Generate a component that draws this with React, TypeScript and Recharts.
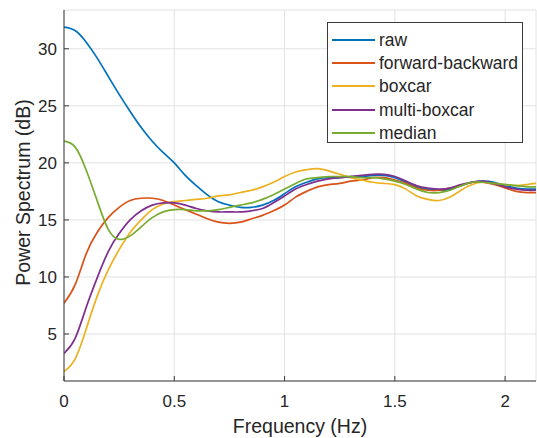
import { CartesianGrid, Line, LineChart, XAxis, YAxis } from "recharts"

const freq = [
  0, 0.05, 0.1, 0.15, 0.2, 0.25, 0.3, 0.35, 0.4, 0.45, 0.5, 0.55, 0.6, 0.65, 0.7, 0.75, 0.8, 0.85, 0.9, 0.95, 1.0,
  1.05, 1.1, 1.15, 1.2, 1.25, 1.3, 1.35, 1.4, 1.45, 1.5, 1.55, 1.6, 1.65, 1.7, 1.75, 1.8, 1.85, 1.9, 1.95, 2.0, 2.05,
  2.1, 2.14,
]

const raw = [
  31.9, 31.6, 30.6, 29.2, 27.6, 26.0, 24.5, 23.1, 21.9, 20.9, 20.0, 18.9, 18.0, 17.2, 16.6, 16.3, 16.1, 16.1, 16.3,
  16.7, 17.3, 17.9, 18.3, 18.6, 18.7, 18.7, 18.8, 18.8, 18.9, 18.9, 18.7, 18.3, 17.9, 17.7, 17.6, 17.7, 18.0, 18.3,
  18.4, 18.3, 18.0, 17.8, 17.7, 17.7,
]
const forwardBackward = [
  7.7, 9.3, 12.0, 13.9, 15.2, 16.1, 16.7, 16.9, 16.9, 16.7, 16.3, 15.9, 15.5, 15.1, 14.8, 14.7, 14.8, 15.1, 15.4,
  15.8, 16.3, 17.0, 17.5, 17.9, 18.1, 18.2, 18.4, 18.5, 18.7, 18.7, 18.5, 18.2, 17.8, 17.6, 17.6, 17.8, 18.0, 18.3,
  18.3, 18.1, 17.8, 17.5, 17.4, 17.4,
]
const boxcar = [
  1.7, 2.8, 5.4, 8.3, 10.6, 12.4, 13.9, 15.0, 15.9, 16.4, 16.6, 16.7, 16.8, 16.9, 17.1, 17.2, 17.4, 17.6, 17.9, 18.3,
  18.8, 19.2, 19.4, 19.5, 19.3, 19.0, 18.7, 18.5, 18.3, 18.2, 18.1, 17.7, 17.1, 16.8, 16.7, 17.0, 17.6, 18.1, 18.3,
  18.2, 18.1, 18.0, 18.1, 18.2,
]
const multiBoxcar = [
  3.3, 4.6, 7.3, 9.9, 12.2, 13.8, 15.0, 15.8, 16.3, 16.5, 16.5, 16.3, 16.0, 15.8, 15.7, 15.7, 15.7, 15.8, 16.0, 16.5,
  17.1, 17.7, 18.1, 18.4, 18.6, 18.7, 18.8, 18.9, 19.0, 19.0, 18.8, 18.4, 18.0, 17.8, 17.7, 17.8, 18.1, 18.3, 18.4,
  18.2, 17.9, 17.7, 17.6, 17.6,
]
const median = [
  21.9, 21.4, 19.4, 16.7, 14.2, 13.3, 13.6, 14.4, 15.2, 15.7, 15.9, 15.9, 15.8, 15.8, 15.9, 16.1, 16.3, 16.5, 16.8,
  17.2, 17.7, 18.2, 18.6, 18.7, 18.8, 18.8, 18.8, 18.7, 18.7, 18.6, 18.4, 18.1, 17.7, 17.4, 17.4, 17.6, 18.0, 18.3,
  18.3, 18.2, 18.1, 18.0, 17.9, 17.9,
]

const xTicks = [0, 0.5, 1, 1.5, 2]
const yTicks = [5, 10, 15, 20, 25, 30]

const series = [
  { key: "raw", name: "raw", color: "#0072BD" },
  { key: "fb", name: "forward-backward", color: "#D95319" },
  { key: "boxcar", name: "boxcar", color: "#EDB120" },
  { key: "multi", name: "multi-boxcar", color: "#7E2F8E" },
  { key: "median", name: "median", color: "#77AC30" },
]

const data = freq.map((f, i) => ({
  f,
  raw: raw[i],
  fb: forwardBackward[i],
  boxcar: boxcar[i],
  multi: multiBoxcar[i],
  median: median[i],
}))

const FONT = "'Liberation Sans', Arial, sans-serif"
const INK = "#262626"
const AXIS = "#3a3a3a"

function BottomTick({ x, y, payload }: any) {
  return (
    <g>
      <line x1={x} x2={x} y1={y} y2={y - 5} stroke={AXIS} />
      <text x={x} y={y + 26} textAnchor="middle" fontSize={17} fontFamily={FONT} fill={INK}>
        {payload.value}
      </text>
    </g>
  )
}

function LeftTick({ x, y, payload }: any) {
  return (
    <g>
      <line x1={x} x2={x + 5} y1={y} y2={y} stroke={AXIS} />
      <text x={x - 7} y={y + 6} textAnchor="end" fontSize={17} fontFamily={FONT} fill={INK}>
        {payload.value}
      </text>
    </g>
  )
}

function TopTick({ x, y }: any) {
  return <line x1={x} x2={x} y1={y} y2={y + 5} stroke={AXIS} />
}

function RightTick({ x, y }: any) {
  return <line x1={x} x2={x - 5} y1={y} y2={y} stroke={AXIS} />
}

function LegendBox() {
  return (
    <div
      style={{
        position: "absolute",
        left: 327,
        top: 22,
        background: "#fff",
        border: `1px solid ${AXIS}`,
        width: 196,
        height: 121,
        boxSizing: "border-box",
        padding: "5px 0 0 4px",
        fontFamily: FONT,
        fontSize: 17.5,
        color: INK,
      }}
    >
      {series.map((s) => (
        <div key={s.key} style={{ display: "flex", alignItems: "center", height: 23.3 }}>
          <div style={{ width: 43, height: 2, background: s.color, marginRight: 4 }} />
          <span style={{ lineHeight: "20px" }}>{s.name}</span>
        </div>
      ))}
    </div>
  )
}

export default function App() {
  return (
    <div style={{ position: "absolute", left: 0, top: 0, width: 537, height: 438, background: "#fff" }}>
      <LineChart width={537} height={438} data={data} margin={{ top: 10, right: 1, left: 0, bottom: 0 }}>
        <CartesianGrid xAxisId="bottom" yAxisId="left" stroke="#e2e2e2" strokeWidth={1} />
        <XAxis
          xAxisId="bottom"
          dataKey="f"
          type="number"
          domain={[0, 2.14]}
          ticks={xTicks}
          allowDataOverflow
          height={57}
          stroke={AXIS}
          tickLine={false}
          tickSize={0}
          tickMargin={0}
          tick={<BottomTick />}
          label={{
            content: ({ viewBox }: any) => (
              <text
                x={viewBox.x + viewBox.width / 2}
                y={viewBox.y + 52}
                textAnchor="middle"
                fontSize={19.5}
                fontFamily={FONT}
                fill={INK}
              >
                Frequency (Hz)
              </text>
            ),
          }}
        />
        <XAxis
          xAxisId="top"
          orientation="top"
          dataKey="f"
          type="number"
          domain={[0, 2.14]}
          ticks={xTicks}
          allowDataOverflow
          height={0}
          stroke={AXIS}
          tickLine={false}
          tickSize={0}
          tick={<TopTick />}
        />
        <YAxis
          yAxisId="left"
          type="number"
          domain={[0.88, 33.4]}
          ticks={yTicks}
          allowDataOverflow
          width={64}
          stroke={AXIS}
          tickLine={false}
          tickSize={0}
          tickMargin={0}
          tick={<LeftTick />}
          label={{
            content: ({ viewBox }: any) => {
              const cx = 23
              const cy = viewBox.y + viewBox.height / 2 - 3
              return (
                <text
                  x={cx}
                  y={cy}
                  transform={`rotate(-90 ${cx} ${cy})`}
                  textAnchor="middle"
                  dominantBaseline="central"
                  fontSize={19.5}
                  fontFamily={FONT}
                  fill={INK}
                >
                  Power Spectrum (dB)
                </text>
              )
            },
          }}
        />
        <YAxis
          yAxisId="right"
          orientation="right"
          type="number"
          domain={[0.88, 33.4]}
          ticks={yTicks}
          allowDataOverflow
          width={0}
          stroke={AXIS}
          tickLine={false}
          tickSize={0}
          tick={<RightTick />}
        />
        {series.map((s) => (
          <Line
            key={s.key}
            xAxisId="bottom"
            yAxisId="left"
            type="natural"
            dataKey={s.key}
            name={s.name}
            stroke={s.color}
            strokeWidth={1.7}
            dot={false}
            isAnimationActive={false}
          />
        ))}
      </LineChart>
      <LegendBox />
    </div>
  )
}
